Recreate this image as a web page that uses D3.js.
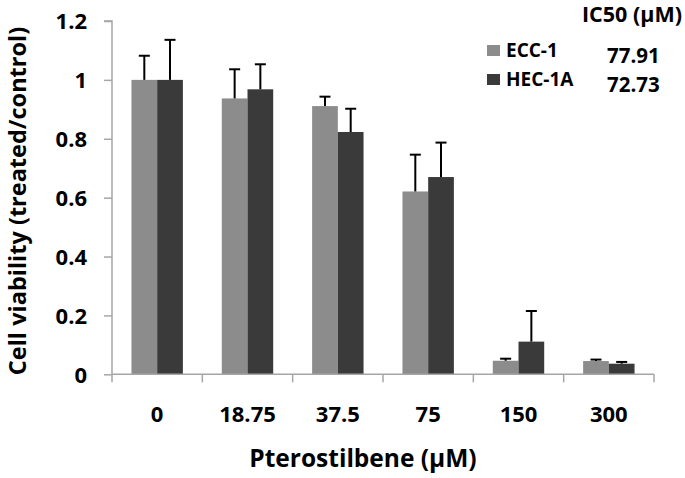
<!DOCTYPE html>
<html><head><meta charset="utf-8">
<script src="https://cdn.jsdelivr.net/npm/d3@7"></script>
<style>
html,body{margin:0;padding:0;background:#fff;}
svg text{font-family:"Open Sans",sans-serif;font-weight:bold;fill:#000;}
</style></head>
<body><svg id="c" width="685" height="478"></svg>
<script>
const categories = ["0","18.75","37.5","75","150","300"];
const seriesNames = ["ECC-1","HEC-1A"];
const ecc = [1.0, 0.937, 0.911, 0.621, 0.046, 0.045];
const eccErr = [0.082, 0.099, 0.032, 0.125, 0.007, 0.005];
const hec = [1.0, 0.968, 0.823, 0.670, 0.111, 0.036];
const hecErr = [0.136, 0.085, 0.079, 0.117, 0.104, 0.006];
const ic50 = ["77.91","72.73"];
const yTicks = [0, 0.2, 0.4, 0.6, 0.8, 1, 1.2];
const yTickLabels = ["0","0.2","0.4","0.6","0.8","1","1.2"];
const colors = ["#8c8c8c","#3a3a3a"];

const svg = d3.select("#c");
const mLeft = 112, mRight = 654, mTop = 21, mBottom = 374.3;
const x = d3.scaleBand().domain(categories).range([mLeft, mRight]).paddingInner(0).paddingOuter(0);
const x1 = d3.scaleBand().domain(seriesNames).range([0, x.bandwidth()]).paddingInner(0).paddingOuter(0.757);
const y = d3.scaleLinear().domain([0, 1.2]).range([mBottom, mTop]);

const data = categories.map((c, i) => ({c, vals: [
  {s: seriesNames[0], v: ecc[i], e: eccErr[i]},
  {s: seriesNames[1], v: hec[i], e: hecErr[i]}]}));

// bars
const g = svg.selectAll("g.cat").data(data).enter().append("g")
  .attr("transform", d => `translate(${x(d.c)},0)`);
g.selectAll("rect").data(d => d.vals).enter().append("rect")
  .attr("x", d => x1(d.s)).attr("width", x1.bandwidth())
  .attr("y", d => y(d.v)).attr("height", d => y(0) - y(d.v))
  .attr("fill", (d, i) => colors[i]);
// error bars
g.selectAll("line.err").data(d => d.vals).enter().append("line")
  .attr("x1", d => x1(d.s) + x1.bandwidth()/2).attr("x2", d => x1(d.s) + x1.bandwidth()/2)
  .attr("y1", d => y(d.v)).attr("y2", d => y(d.v + d.e))
  .attr("stroke", "#000").attr("stroke-width", 2);
g.selectAll("line.cap").data(d => d.vals).enter().append("line")
  .attr("x1", d => x1(d.s) + x1.bandwidth()/2 - 5.5).attr("x2", d => x1(d.s) + x1.bandwidth()/2 + 5.5)
  .attr("y1", d => y(d.v + d.e)).attr("y2", d => y(d.v + d.e))
  .attr("stroke", "#000").attr("stroke-width", 2);

// y axis
const yAxis = svg.append("g").attr("transform", `translate(${mLeft},0)`)
  .call(d3.axisLeft(y).tickValues(yTicks).tickFormat((d, i) => yTickLabels[i]).tickSize(8).tickPadding(17));
yAxis.select(".domain").attr("stroke", "#a6a6a6").attr("stroke-width", 1.5).attr("d", `M-8,${mTop}H0V${mBottom}`);
yAxis.selectAll(".tick line").attr("stroke", "#a6a6a6").attr("stroke-width", 1.5);
yAxis.selectAll(".tick text").style("font-size", "22px").attr("dy", "0.36em");

// x axis
const xAxis = svg.append("g").attr("transform", `translate(0,${mBottom})`)
  .call(d3.axisBottom(x).tickSize(0).tickPadding(32));
xAxis.select(".domain").attr("stroke", "#a6a6a6").attr("stroke-width", 1.5).attr("d", `M${mLeft},0H${mRight}`);
xAxis.selectAll(".tick text").style("font-size", "22px");
const bounds = categories.map(c => x(c)).concat([x.range()[1]]);
xAxis.selectAll("line.bt").data(bounds).enter().append("line")
  .attr("x1", d => d).attr("x2", d => d).attr("y1", 0).attr("y2", 8)
  .attr("stroke", "#a6a6a6").attr("stroke-width", 1.5);

// titles
svg.append("text").attr("transform", `translate(26,201) rotate(-90)`)
  .attr("text-anchor", "middle").style("font-size", "23.5px").text("Cell viability (treated/control)");
svg.append("text").attr("x", 363).attr("y", 467).attr("text-anchor", "middle")
  .style("font-size", "24.5px").text("Pterostilbene (\u03BCM)");

// legend
svg.append("text").attr("x", 682).attr("y", 22).attr("text-anchor", "end")
  .style("font-size", "21.5px").text("IC50 (\u03BCM)");
const lg = svg.selectAll("g.lg").data(seriesNames).enter().append("g")
  .attr("transform", (d, i) => `translate(487,${45 + i * 29})`);
lg.append("rect").attr("width", 13).attr("height", 11).attr("fill", (d, i) => colors[i]);
lg.append("text").attr("x", 19).attr("y", 12).style("font-size", "19px").text(d => d);
svg.selectAll("text.ic").data(ic50).enter().append("text")
  .attr("x", 607).attr("y", (d, i) => 63 + i * 28.5).style("font-size", "20.5px").text(d => d);
</script></body></html>
